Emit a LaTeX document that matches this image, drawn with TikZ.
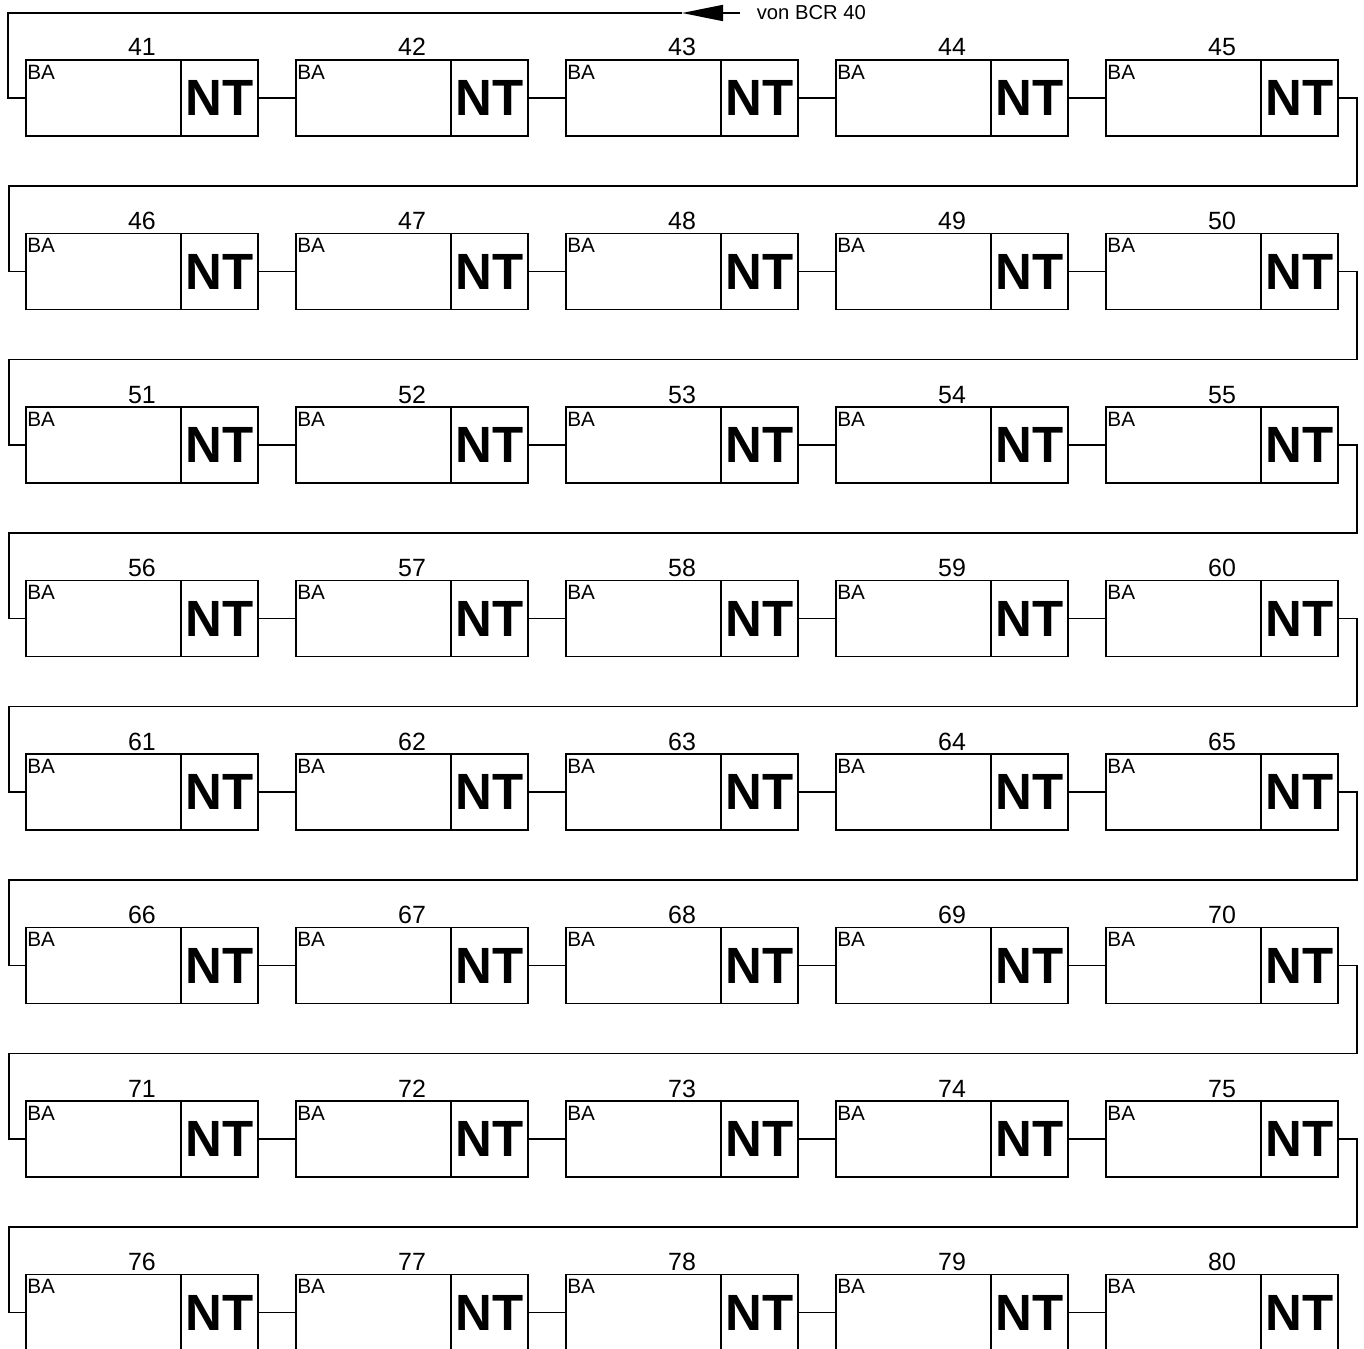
\documentclass[tikz,border=0pt]{standalone}
\usepackage{fontspec}
\setmainfont{Liberation Sans}
\usepackage{tikz}
\usetikzlibrary{arrows.meta,positioning}

\begin{document}
\begin{tikzpicture}[
  x=0.02cm, y=-0.02cm,
  line width=1pt,
  bapart/.style={rectangle, draw, anchor=north west, outer sep=0pt, inner sep=0pt,
    minimum width=3.1cm, minimum height=1.52cm},
  ntpart/.style={rectangle, draw, outer sep=0pt, inner sep=0pt,
    minimum width=1.54cm, minimum height=1.52cm,
    font=\fontsize{29}{30}\selectfont\bfseries},
  nrlabel/.style={anchor=base, inner sep=0pt, font=\fontsize{14.2}{16}\selectfont},
  balabel/.style={anchor=north west, inner xsep=0.3pt, inner ysep=2.2pt,
    font=\fontsize{11.8}{13}\selectfont},
  label/.style={font=\fontsize{11.5}{13}\selectfont},
  arrow/.style={-{Triangle[length=0.82cm, width=0.32cm]}}
]
\useasboundingbox (0,0) rectangle (1364,1348);
\clip (0,0) rectangle (1364,1348);

% BA / NT boxes
\foreach \r in {0,...,7} {
  \foreach \c in {0,...,4} {
    \pgfmathtruncatemacro{\n}{41+5*\r+\c}
    \node[bapart] (ba\n) at (26+270*\c, 60+173.5*\r) {};
    \node[ntpart, right=0pt of ba\n] (nt\n) {\raisebox{-2.5pt}{NT}};
    \node[balabel] at (ba\n.north west) {BA};
    \node[nrlabel] (nr\n) at (142+270*\c, 56+173.5*\r) {\n};
  }
}

% Incoming line
\coordinate (vonend) at (740,13);
\coordinate (vontip) at (682,13);
\node[label, anchor=west, inner sep=0pt] (von) at (756,13) {von BCR 40};
\draw[arrow] (vonend) -- (vontip);
\draw (vontip) -- (8,13) |- (ba41.west);

% Links in a row
\foreach \n in {41,...,79} {
  \pgfmathtruncatemacro{\m}{\n+1}
  \pgfmathtruncatemacro{\k}{mod(\n-40,5)}
  \ifnum\k>0
    \draw (nt\n.east) -- (ba\m.west);
  \fi
}

% Row ends
\foreach \n in {45,50,...,75} {
  \pgfmathtruncatemacro{\m}{\n+1}
  \draw (nt\n.east) -- ++(19,0) |- ++(-1348,88) |- (ba\m.west);
}

\end{tikzpicture}
\end{document}
